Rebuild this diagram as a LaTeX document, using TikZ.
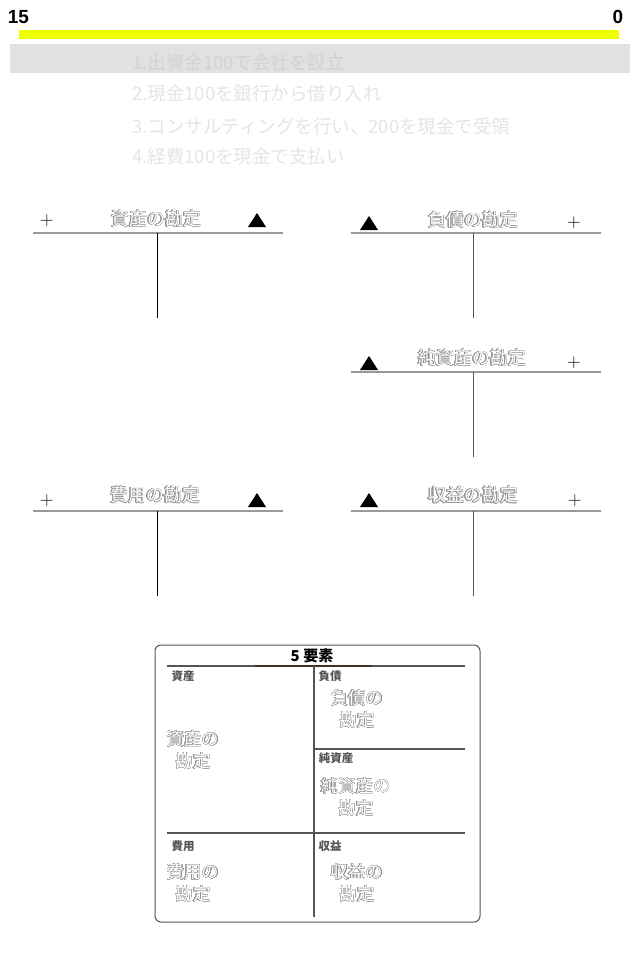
\documentclass[tikz,border=0pt]{standalone}
\usepackage{fontspec}
\setmainfont{Noto Sans CJK JP}
\newfontfamily\numfont{Liberation Sans}
\newfontfamily\lmfont{Latin Modern Roman}
\usepackage[copies]{contour}
\contourlength{0.4pt}
\contournumber{24}
\usepackage{tikz}

\definecolor{barYellow}{HTML}{EEFF00}
\definecolor{bandGray}{HTML}{E1E1E1}
\definecolor{bandText}{HTML}{D2D2D2}
\definecolor{stepGray}{HTML}{E4E4E4}
\definecolor{lineGray}{HTML}{999999}
\definecolor{outGray}{HTML}{959595}
\definecolor{labelGray}{HTML}{555555}
\definecolor{boxEdge}{HTML}{555555}
\definecolor{headBrown}{HTML}{4A2E22}
\newcommand{\hollow}[1]{{\color{white}\contour{outGray}{#1}}}

\tikzstyle{tline} = [draw=lineGray, line width=1.6pt]
\tikzstyle{tstem} = [draw=black, line width=0.8pt]
\tikzstyle{ttitle} = [inner sep=0pt, font=\fontsize{18}{18}\selectfont]
\tikzstyle{plussign} = [inner sep=0pt, font=\lmfont\fontsize{19}{19}\selectfont]
\tikzstyle{steptext} = [right, inner sep=0pt, font=\fontsize{18.5}{18.5}\selectfont]
\tikzstyle{boxhead} = [inner sep=0pt, text=labelGray, font=\bfseries\fontsize{11.5}{11.5}\selectfont]
\tikzstyle{boxtext} = [inner sep=0pt, align=center, font=\fontsize{17.5}{22}\selectfont]

\begin{document}
\begin{tikzpicture}[yscale=-1]
	\useasboundingbox (0pt,0pt) rectangle (640pt,960pt);
	% timer and steps
	\node[inner sep=0pt, font=\numfont\bfseries\fontsize{19}{19}\selectfont] (timeLeft) at (18.5pt,17pt) {15};
	\node[inner sep=0pt, font=\numfont\bfseries\fontsize{19}{19}\selectfont] (timeRight) at (618pt,17pt) {0};
	\fill[barYellow] (19pt,30pt) rectangle (619pt,39pt);
	\fill[bandGray] (10pt,44pt) rectangle (630pt,73pt);
	\node[steptext, text=bandText] (step1) at (132pt,62pt) {1.出資金100で会社を設立};
	\node[steptext, text=stepGray] (step2) at (132pt,94pt) {2.現金100を銀行から借り入れ};
	\node[steptext, text=stepGray] (step3) at (132pt,126pt) {3.コンサルティングを行い、200を現金で受領};
	\node[steptext, text=stepGray] (step4) at (132pt,157pt) {4.経費100を現金で支払い};
	% assets
	\draw[tline] (33pt,233pt) -- (283pt,233pt);
	\draw[tstem] (157pt,233pt) -- (157pt,318pt);
	\node[ttitle] (assetTitle) at (156pt,219pt) {\hollow{資産の勘定}};
	\node[plussign] (assetPlus) at (47pt,221pt) {+};
	\fill (248pt,227pt) -- (266pt,227pt) -- (257pt,213pt) -- cycle;
	% liabilities
	\draw[tline] (351pt,233pt) -- (601pt,233pt);
	\draw[tstem, draw=labelGray] (473pt,233pt) -- (473pt,318pt);
	\node[ttitle] (debtTitle) at (473pt,220pt) {\hollow{負債の勘定}};
	\node[plussign] (debtPlus) at (574pt,223pt) {+};
	\fill (360pt,230pt) -- (378pt,230pt) -- (369pt,216pt) -- cycle;
	% net assets
	\draw[tline] (351pt,372pt) -- (601pt,372pt);
	\draw[tstem, draw=labelGray] (473pt,372pt) -- (473pt,457pt);
	\node[ttitle] (equityTitle) at (472pt,358pt) {\hollow{純資産の勘定}};
	\node[plussign] (equityPlus) at (574pt,363pt) {+};
	\fill (360pt,370pt) -- (378pt,370pt) -- (369pt,356pt) -- cycle;
	% expenses
	\draw[tline] (33pt,511pt) -- (283pt,511pt);
	\draw[tstem] (157pt,511pt) -- (157pt,596pt);
	\node[ttitle] (costTitle) at (155pt,495pt) {\hollow{費用の勘定}};
	\node[plussign] (costPlus) at (47pt,501pt) {+};
	\fill (248pt,507pt) -- (266pt,507pt) -- (257pt,493pt) -- cycle;
	% revenue
	\draw[tline] (351pt,511pt) -- (601pt,511pt);
	\draw[tstem, draw=labelGray] (473pt,511pt) -- (473pt,596pt);
	\node[ttitle] (gainTitle) at (473pt,495pt) {\hollow{収益の勘定}};
	\node[plussign] (gainPlus) at (575pt,501pt) {+};
	\fill (360pt,507pt) -- (378pt,507pt) -- (369pt,493pt) -- cycle;
	% five elements
	\draw[draw=boxEdge, line width=1pt, rounded corners=6pt] (155pt,645pt) rectangle (480pt,922pt);
	\node[inner sep=0pt, font=\bfseries\fontsize{15}{15}\selectfont] (boxTitle) at (312pt,656pt) {5 要素};
	\draw[draw=labelGray, line width=1.2pt] (167pt,666pt) -- (465pt,666pt);
	\draw[draw=headBrown, line width=1.2pt] (255pt,666pt) -- (372pt,666pt);
	\draw[draw=labelGray, line width=1.2pt] (314pt,666pt) -- (314pt,917pt);
	\draw[draw=labelGray, line width=1.2pt] (314pt,749pt) -- (465pt,749pt);
	\draw[draw=labelGray, line width=1.2pt] (167pt,833pt) -- (465pt,833pt);
	\node[boxhead] (assetHead) at (183pt,676pt) {資産};
	\node[boxhead] (debtHead) at (330pt,676pt) {負債};
	\node[boxhead] (equityHead) at (336pt,758pt) {純資産};
	\node[boxhead] (costHead) at (183pt,846pt) {費用};
	\node[boxhead] (gainHead) at (330pt,846pt) {収益};
	\node[boxtext] (assetBox) at (193pt,750pt) {\hollow{資産の}\\\hollow{勘定}};
	\node[boxtext] (debtBox) at (357pt,709pt) {\hollow{負債の}\\\hollow{勘定}};
	\node[boxtext] (equityBox) at (356pt,797pt) {\hollow{純資産の}\\\hollow{勘定}};
	\node[boxtext] (costBox) at (193pt,883pt) {\hollow{費用の}\\\hollow{勘定}};
	\node[boxtext] (gainBox) at (357pt,883pt) {\hollow{収益の}\\\hollow{勘定}};
\end{tikzpicture}
\end{document}
